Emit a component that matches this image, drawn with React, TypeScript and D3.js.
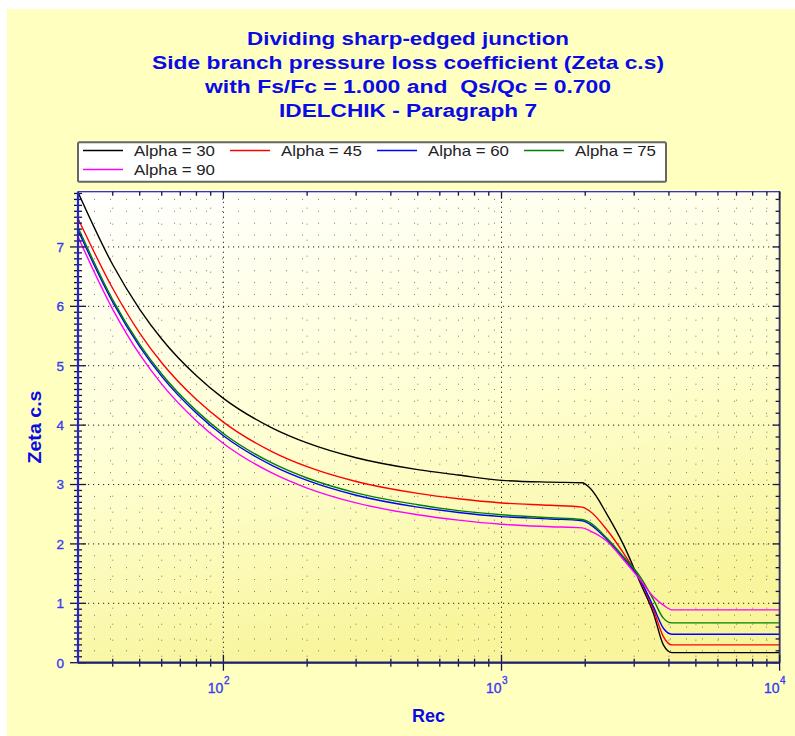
import React from "react";
import * as d3 from "d3";

const reValues = [30, 40, 50, 60, 80, 100, 150, 200, 300, 500, 700, 1000, 1500, 1950, 2080, 2400, 2750, 3150, 3520, 3820, 4100, 5000, 10000];
const alpha30 = [7.92, 6.70, 5.95, 5.45, 4.83, 4.45, 3.95, 3.70, 3.45, 3.25, 3.16, 3.07, 3.04, 3.03, 2.94, 2.49, 1.98, 1.35, 0.83, 0.30, 0.17, 0.17, 0.17];
const alpha45 = [7.48, 6.30, 5.55, 5.05, 4.43, 4.05, 3.55, 3.30, 3.05, 2.85, 2.76, 2.69, 2.65, 2.62, 2.55, 2.23, 1.84, 1.39, 0.89, 0.44, 0.30, 0.30, 0.30];
const alpha60 = [7.28, 6.07, 5.32, 4.82, 4.20, 3.82, 3.32, 3.07, 2.82, 2.62, 2.53, 2.46, 2.42, 2.39, 2.33, 2.07, 1.76, 1.40, 0.94, 0.58, 0.48, 0.48, 0.48];
const alpha75 = [7.33, 6.11, 5.36, 4.86, 4.24, 3.86, 3.36, 3.11, 2.86, 2.66, 2.56, 2.49, 2.44, 2.41, 2.36, 2.09, 1.78, 1.45, 1.06, 0.75, 0.67, 0.67, 0.67];
const alpha90 = [7.17, 5.95, 5.19, 4.69, 4.07, 3.69, 3.19, 2.94, 2.69, 2.49, 2.40, 2.33, 2.29, 2.27, 2.22, 2.04, 1.73, 1.40, 1.11, 0.97, 0.89, 0.89, 0.89];

const seriesNames = ["Alpha = 30", "Alpha = 45", "Alpha = 60", "Alpha = 75", "Alpha = 90"];
const seriesColors = ["#000000", "#FF0000", "#0000FF", "#008000", "#FF00FF"];
const seriesValues = [alpha30, alpha45, alpha60, alpha75, alpha90];

const titleLines = [
  "Dividing sharp-edged junction",
  "Side branch pressure loss coefficient (Zeta c.s)",
  "with Fs/Fc = 1.000 and  Qs/Qc = 0.700",
  "IDELCHIK - Paragraph 7",
];
const titleWidths = [322, 512, 406, 258];
const yTickValues = [0, 1, 2, 3, 4, 5, 6, 7];
const xTickExponents = [2, 3, 4];
const xDomain = [30, 10000];
const yDomain = [0, 7.93];

const FONT = "'Liberation Sans', Arial, Helvetica, sans-serif";

export default function App() {
  const L = 78, R = 779.6, T = 191.7, B = 662.7;
  const x = d3.scaleLog().domain(xDomain).range([L, R]);
  const y = d3.scaleLinear().domain(yDomain).range([B, T]);

  const xMinor: number[] = [];
  [10, 100, 1000].forEach((dec) => {
    for (let k = 2; k <= 9; k++) {
      const v = dec * k;
      if (v > 30 && v < 10000) xMinor.push(v);
    }
  });
  const yMinor01 = d3.range(1, 80).map((i) => i / 10).filter((v) => Math.abs(v - Math.round(v)) > 1e-6 && v < yDomain[1]);
  const yMinor02 = d3.range(1, 40).map((i) => i / 5).filter((v) => Math.abs(v - Math.round(v)) > 1e-6 && v < yDomain[1]);

  const line = d3
    .line<[number, number]>()
    .x((d) => x(d[0]))
    .y((d) => y(d[1]))
    .curve(d3.curveMonotoneX);

  const tickColor = "#15154a";
  const labelColor = "#3a3af2";
  const titleColor = "#0a0ae6";

  return (
    <svg width={795} height={736} style={{ position: "absolute", left: 0, top: 0 }} fontFamily={FONT}>
      <defs>
        <linearGradient id="plotbg" x1="0" y1="0" x2="0.3" y2="1">
          <stop offset="0" stopColor="#FFFFFF" />
          <stop offset="0.55" stopColor="#FFFFD4" />
          <stop offset="1" stopColor="#F8F59C" />
        </linearGradient>
        <clipPath id="plotclip">
          <rect x={L} y={T} width={R - L} height={B - T} />
        </clipPath>
      </defs>
      <rect x={0} y={0} width={795} height={736} fill="#FFFFFF" />
      <rect x={7} y={9} width={788} height={727} fill="#FFFFC0" />

      {titleLines.map((t, i) => (
        <text
          key={i}
          x={408}
          y={44.5 + i * 24.1}
          textAnchor="middle"
          fontSize={18}
          fontWeight="bold"
          fill={titleColor}
          textLength={titleWidths[i]}
          lengthAdjust="spacingAndGlyphs"
          style={{ whiteSpace: "pre" }}
        >
          {t}
        </text>
      ))}

      {/* legend */}
      <rect x={78} y={142.3} width={588} height={39.4} fill="#FFFFFF" stroke="#666666" strokeWidth={2} rx={1.5} />
      {seriesNames.map((n, i) => {
        const col = i % 4;
        const row = Math.floor(i / 4);
        const x0 = 83 + col * 147;
        const yc = 150.5 + row * 19;
        return (
          <g key={n}>
            <line x1={x0} x2={x0 + 40} y1={yc} y2={yc} stroke={seriesColors[i]} strokeWidth={1.3} />
            <text x={x0 + 51} y={yc + 5.3} fontSize={15} fill="#222222" textLength={81} lengthAdjust="spacingAndGlyphs">
              {n}
            </text>
          </g>
        );
      })}

      {/* plot area */}
      <rect x={L} y={T} width={R - L} height={B - T} fill="url(#plotbg)" />

      {/* minor grid */}
      <g stroke="#7a7a7a" strokeWidth={1} strokeDasharray="1 15">
        {yMinor02.map((v) => (
          <line key={"hy" + v} x1={L} x2={R} y1={y(v)} y2={y(v)} />
        ))}
        {xMinor.map((v) => (
          <line key={"vx" + v} x1={x(v)} x2={x(v)} y1={T} y2={B} />
        ))}
      </g>
      {/* major grid */}
      <g stroke="#222222" strokeWidth={1} strokeDasharray="1.2 3.8">
        {yTickValues.filter((v) => v > 0).map((v) => (
          <line key={"Hy" + v} x1={L} x2={R} y1={y(v)} y2={y(v)} />
        ))}
        {[100, 1000].map((v) => (
          <line key={"Vx" + v} x1={x(v)} x2={x(v)} y1={T} y2={B} />
        ))}
      </g>

      {/* curves */}
      <g clipPath="url(#plotclip)" fill="none">
        {seriesValues.map((vals, i) => (
          <path
            key={i}
            d={line(reValues.map((r, j) => [r, vals[j]] as [number, number])) || ""}
            stroke={seriesColors[i]}
            strokeWidth={1.4}
          />
        ))}
      </g>

      {/* frame */}
      <rect x={L} y={T} width={R - L} height={B - T} fill="none" stroke="#2020c0" strokeWidth={1.2} />
      <line x1={R} x2={R} y1={T} y2={B} stroke="#38385a" strokeWidth={1.8} />

      {/* ticks */}
      <g stroke={tickColor} strokeWidth={1.3}>
        {yMinor01.map((v) => (
          <line key={"lt" + v} x1={L - 4} x2={L + 4} y1={y(v)} y2={y(v)} />
        ))}
        {yTickValues.map((v) => (
          <line key={"LT" + v} x1={L - 8} x2={L + 8} y1={y(v)} y2={y(v)} />
        ))}
        {yMinor02.map((v) => (
          <line key={"rt" + v} x1={R - 4} x2={R} y1={y(v)} y2={y(v)} />
        ))}
        {yTickValues.map((v) => (
          <line key={"RT" + v} x1={R - 7} x2={R} y1={y(v)} y2={y(v)} />
        ))}
        {xMinor.map((v) => (
          <line key={"bt" + v} x1={x(v)} x2={x(v)} y1={B - 4} y2={B + 4} />
        ))}
        {xTickExponents.map((e) => (
          <line key={"BT" + e} x1={x(Math.pow(10, e))} x2={x(Math.pow(10, e))} y1={B - 8} y2={B + 8} />
        ))}
        {xMinor.map((v) => (
          <line key={"tt" + v} x1={x(v)} x2={x(v)} y1={T} y2={T + 4} />
        ))}
        {xTickExponents.map((e) => (
          <line key={"TT" + e} x1={x(Math.pow(10, e))} x2={x(Math.pow(10, e))} y1={T} y2={T + 7} />
        ))}
      </g>
      <line x1={L} x2={L} y1={T} y2={B} stroke="#2424c8" strokeWidth={2.2} />
      <line x1={L} x2={R} y1={B} y2={B} stroke="#22226e" strokeWidth={2.2} />

      {/* tick labels */}
      <g fill={labelColor} stroke={labelColor} strokeWidth={0.35}>
        {yTickValues.map((v) => (
          <text key={"yl" + v} x={64} y={y(v) + 4.8} textAnchor="end" fontSize={13.5}>
            {v}
          </text>
        ))}
        {xTickExponents.map((e) => {
          const px = x(Math.pow(10, e));
          return (
            <g key={"xl" + e}>
              <text x={px} y={693} textAnchor="end" fontSize={14}>
                10
              </text>
              <text x={px + 0.5} y={684} fontSize={10}>
                {e}
              </text>
            </g>
          );
        })}
      </g>

      {/* axis titles */}
      <text x={428.6} y={722} textAnchor="middle" fontSize={18} fontWeight="bold" fill={titleColor}>
        Rec
      </text>
      <text
        transform="translate(40.5,427) rotate(-90)"
        textAnchor="middle"
        fontSize={18}
        fontWeight="bold"
        fill={titleColor}
        textLength={73}
        lengthAdjust="spacingAndGlyphs"
      >
        Zeta c.s
      </text>
    </svg>
  );
}
